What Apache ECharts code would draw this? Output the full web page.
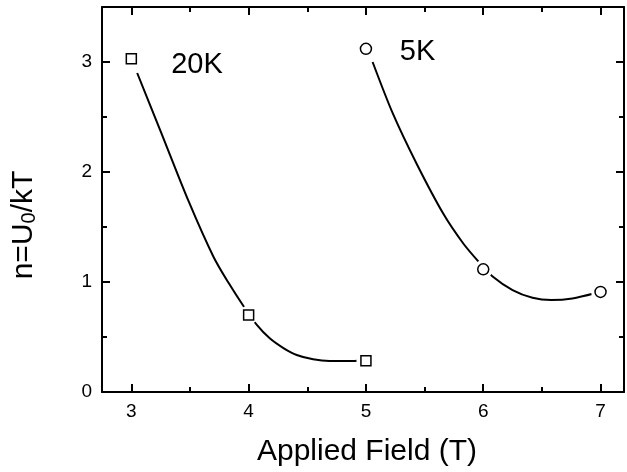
<!DOCTYPE html>
<html><head><meta charset="utf-8">
<script src="https://cdn.jsdelivr.net/npm/echarts@6/dist/echarts.min.js"></script>
<style>html,body{margin:0;padding:0;background:#fff}#c{width:627px;height:472px}</style>
</head><body><div id="c"></div>
<script>
// measured points
const fields20K = [3, 4, 5];
const n20K = [3.03, 0.70, 0.285];
const fields5K = [5, 6, 7];
const n5K = [3.12, 1.115, 0.91];
// fitted curves
const fit20KX = [3.05, 3.25, 3.49, 3.70, 3.83, 3.96, 4.07, 4.18, 4.30, 4.41, 4.55, 4.69, 4.84, 4.93];
const fit20KY = [2.90, 2.37, 1.73, 1.23, 0.99, 0.775, 0.61, 0.488, 0.397, 0.336, 0.297, 0.282, 0.282, 0.285];
const fit5KX = [5.057, 5.23, 5.43, 5.66, 5.83, 5.96, 6.08, 6.25, 6.42, 6.58, 6.76, 6.95];
const fit5KY = [3.00, 2.53, 2.08, 1.62, 1.35, 1.185, 1.05, 0.927, 0.857, 0.836, 0.85, 0.897];
// tick labels
const xTickLabels = [3, 4, 5, 6, 7];
const yTickLabels = [0, 1, 2, 3];
// curve labels
const curveLabels = ['20K', '5K'];
const curveLabelX = [3.56, 5.44];
const curveLabelY = [2.97, 3.095];

const X_MIN = 2.75, X_MAX = 7.2, Y_MIN = 0, Y_MAX = 3.5;
const FONT = "'Liberation Sans', Arial, Helvetica, sans-serif";
const INK = '#000';

const zip = (a, b) => a.map((v, i) => [v, b[i]]);
const labelFmt = list => v => (list.indexOf(Math.round(v * 1000) / 1000) >= 0 ? String(v) : '');

function axis(kind, pos, split, len, showLine, labels, extra) {
  const isX = kind === 'x';
  return Object.assign({
    type: 'value', position: pos, splitNumber: split,
    min: isX ? X_MIN : Y_MIN, max: isX ? X_MAX : Y_MAX,
    axisLine: { show: showLine, onZero: false, lineStyle: { color: INK, width: 2 } },
    axisTick: { show: true, inside: true, length: len, lineStyle: { color: INK, width: 2 } },
    axisLabel: labels ? { show: true, formatter: labelFmt(labels),
      color: INK, fontSize: 19, fontFamily: FONT, margin: 10 } : { show: false },
    splitLine: { show: false }
  }, extra || {});
}

const chart = echarts.init(document.getElementById('c'), null, { renderer: 'canvas' });
chart.setOption({
  animation: false,
  backgroundColor: '#fff',
  grid: { left: 102, right: 1, top: 7, bottom: 80 },
  xAxis: [
    axis('x', 'bottom', 5, 8, true, xTickLabels, {
      name: 'Applied Field (T)', nameLocation: 'middle', nameGap: 45,
      nameTextStyle: { fontSize: 30, color: INK, fontFamily: FONT, padding: [0, 0, 0, 8] }
    }),
    axis('x', 'bottom', 9, 5, false, null),
    axis('x', 'top', 5, 8, true, null),
    axis('x', 'top', 9, 5, false, null)
  ],
  yAxis: [
    axis('y', 'left', 4, 8, true, yTickLabels),
    axis('y', 'left', 7, 5, false, null),
    axis('y', 'right', 4, 8, true, null),
    axis('y', 'right', 7, 5, false, null)
  ],
  series: [
    { type: 'line', xAxisIndex: 0, yAxisIndex: 0, data: zip(fit20KX, fit20KY), smooth: 0.3,
      showSymbol: false, lineStyle: { color: INK, width: 2 }, z: 2, silent: true },
    { type: 'line', xAxisIndex: 0, yAxisIndex: 0, data: zip(fit5KX, fit5KY), smooth: 0.3,
      showSymbol: false, lineStyle: { color: INK, width: 2 }, z: 2, silent: true },
    { type: 'scatter', xAxisIndex: 0, yAxisIndex: 0,
      data: zip(fields20K, n20K).concat(zip(fields5K, n5K)),
      symbol: 'circle', symbolSize: 19, itemStyle: { color: '#fff', opacity: 1 }, z: 3, silent: true },
    { type: 'scatter', name: '20K', xAxisIndex: 0, yAxisIndex: 0, data: zip(fields20K, n20K),
      symbol: 'rect', symbolSize: 10,
      itemStyle: { color: '#fff', borderColor: INK, borderWidth: 1.5, opacity: 1 }, z: 4 },
    { type: 'scatter', name: '5K', xAxisIndex: 0, yAxisIndex: 0, data: zip(fields5K, n5K),
      symbol: 'circle', symbolSize: 11,
      itemStyle: { color: '#fff', borderColor: INK, borderWidth: 1.5, opacity: 1 }, z: 4 }
  ]
});

const graphics = curveLabels.map((t, i) => {
  const p = chart.convertToPixel({ xAxisIndex: 0, yAxisIndex: 0 }, [curveLabelX[i], curveLabelY[i]]);
  return { type: 'text', x: p[0], y: p[1], z: 10,
    style: { text: t, font: '29px ' + FONT, fill: INK, textAlign: 'center', textVerticalAlign: 'middle' } };
});
graphics.push({
  type: 'text', x: 24, y: 225, rotation: Math.PI / 2, z: 10,
  style: {
    text: 'n=U{s|0}/kT', fontSize: 30, fontFamily: FONT, fill: INK,
    textAlign: 'center', textVerticalAlign: 'middle',
    rich: { s: { fontSize: 20, fontFamily: FONT, fill: INK, verticalAlign: 'bottom', lineHeight: 8 } }
  }
});
chart.setOption({ graphic: graphics });
</script>
</body></html>
